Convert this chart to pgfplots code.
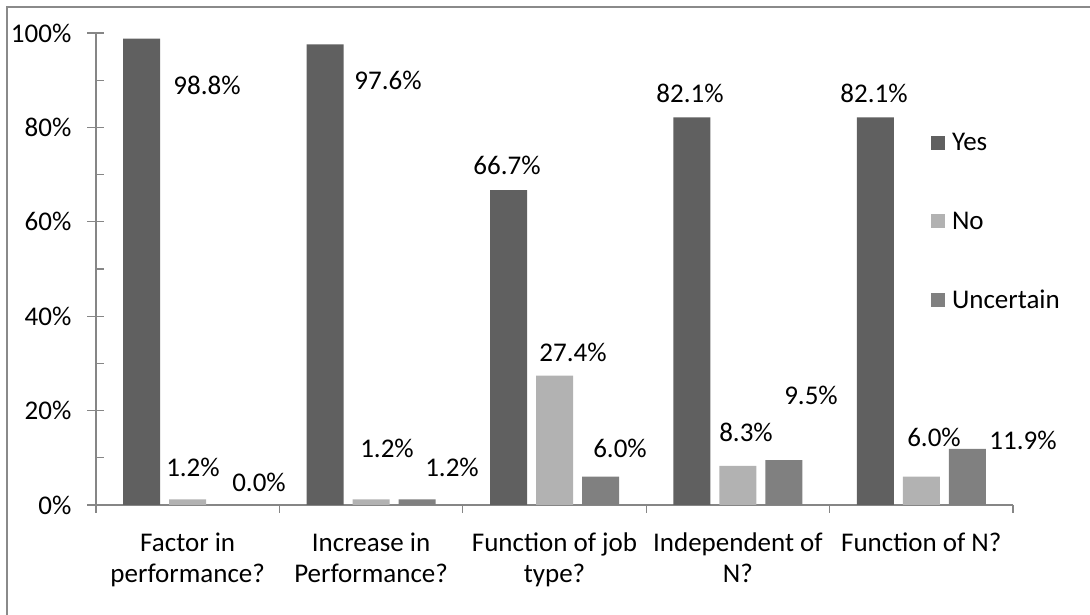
\documentclass[border=0pt]{standalone}
\usepackage{fontspec}
\setmainfont{Carlito}
\usepackage{pgfplots}
\usepackage{pgfplotstable}
\pgfplotsset{compat=1.18}

\definecolor{yescol}{HTML}{606060}
\definecolor{nocol}{HTML}{B2B2B2}
\definecolor{unccol}{HTML}{808080}
\definecolor{axiscol}{HTML}{868686}
\definecolor{framecol}{HTML}{8A8A8A}

% columns: category index, share in percent, label offset (dx, dy) in pt
\pgfplotstableread{
x y dx dy
0 98.8 65.3 -46.3
1 97.6 62.9 -35.7
2 66.7 -1.5 25.2
3 82.1 -1.9 24.5
4 82.1 -1.3 24.5
}\yesdata
\pgfplotstableread{
x y dx dy
0 1.2 5.3 32.3
1 1.2 15.9 51.3
2 27.4 18.5 23.7
3 8.3 8.1 33.8
4 6.0 12.7 39.7
}\nodata
\pgfplotstableread{
x y dx dy
0 0.0 25.3 23.0
1 1.2 34.9 32.3
2 6.0 19.5 28.7
3 9.5 27.1 65.2
4 11.9 55.7 8.8
}\uncdata

\begin{document}
\begin{tikzpicture}[font=\fontsize{27}{31}\selectfont]
\path[use as bounding box] (-96pt,-110pt) rectangle (994pt,505pt);
\draw[framecol, line width=2.6pt] (-89pt,-110pt) -- (-89pt,498pt) -- (994pt,498pt);
\begin{axis}[
  at={(0pt,0pt)}, anchor=south west,
  scale only axis, width=917pt, height=472pt,
  xmin=-0.5, xmax=4.5, ymin=0, ymax=100,
  ybar=9pt, bar width=37pt,
  axis x line*=bottom, axis y line*=left,
  axis line style={axiscol, line width=1.3pt, -},
  xtick={0,...,4},
  xticklabels={{Factor in\\performance?},{Increase in\\Performance?},{Function of job\\type?},{Independent of\\N?},{Function of N?}},
  minor xtick={-0.5,0.5,...,4.5},
  ytick={0,20,...,100}, minor ytick={10,30,...,90},
  tick align=center, major tick length=17pt, minor tick length=8pt,
  every tick/.append style={axiscol, line width=1.3pt},
  major x tick style={draw=none},
  minor x tick style={yshift=-4pt},
  minor y tick style={xshift=4pt},
  /pgf/number format/assume math mode=true,
  yticklabel={\pgfmathprintnumber{\tick}\%},
  yticklabel style={anchor=east, inner sep=0pt, xshift=-16pt},
  xticklabel style={align=center, anchor=north, inner sep=0pt, yshift=-19pt},
  clip=false,
  legend cell align=left,
  legend style={draw=none, fill=none, inner sep=0pt, outer sep=0pt,
    at={(rel axis cs:0.9106,0.5996)}, anchor=west,
    row sep=59.6pt, column sep=7pt, nodes={inner sep=0pt}},
  legend image code/.code={\fill[#1] (0pt,-7pt) rectangle (14pt,7pt);},
  nodes near coords={\pgfmathprintnumber[fixed,fixed zerofill,precision=1]{\pgfplotspointmeta}\%},
  visualization depends on={\thisrow{dx}\as\dx},
  visualization depends on={\thisrow{dy}\as\dy},
  every node near coord/.append style={anchor=center, xshift=\dx pt, yshift=\dy pt, text=black},
]
\addplot[fill=yescol, draw=none] table[x=x, y=y] {\yesdata};
\addplot[fill=nocol, draw=none] table[x=x, y=y] {\nodata};
\addplot[fill=unccol, draw=none] table[x=x, y=y] {\uncdata};
\legend{Yes,No,Uncertain}
\end{axis}
\end{tikzpicture}
\end{document}
